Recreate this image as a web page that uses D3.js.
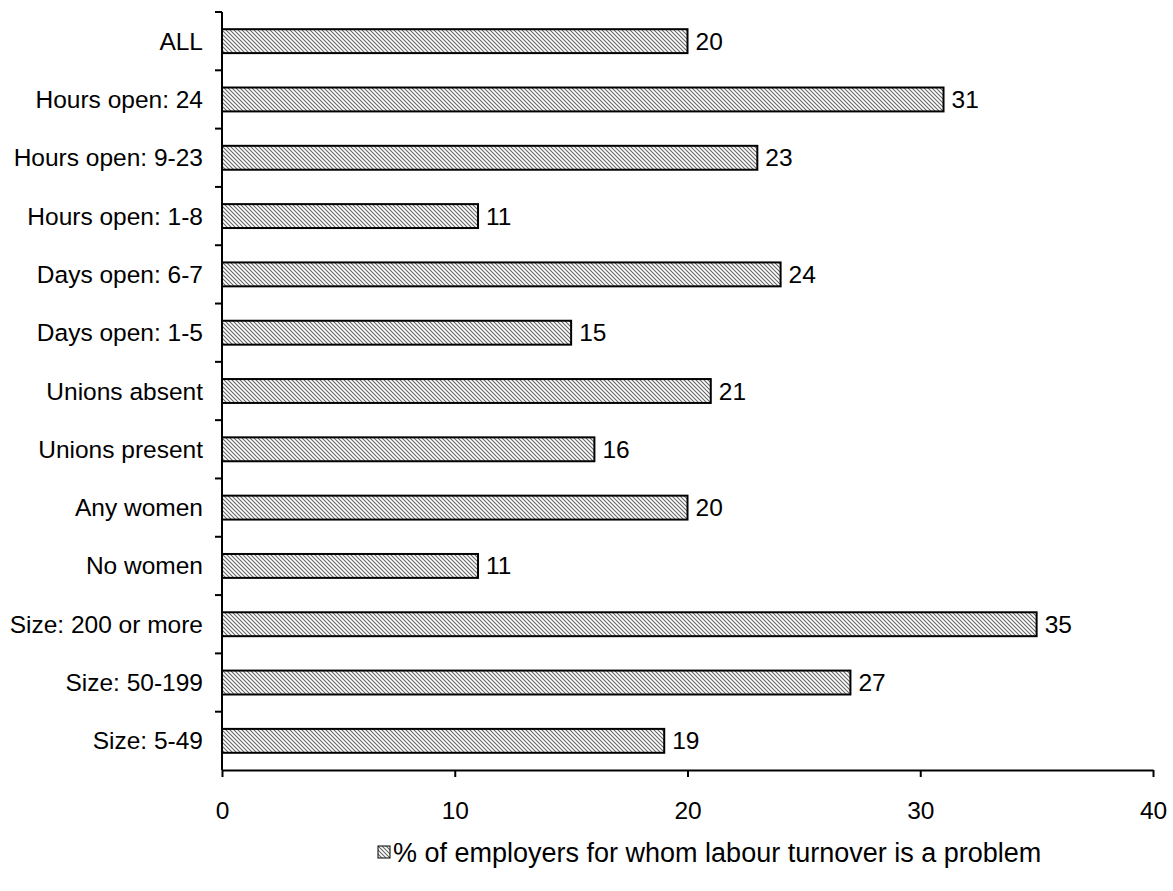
<!DOCTYPE html>
<html>
<head>
<meta charset="utf-8">
<script src="https://cdn.jsdelivr.net/npm/d3@7"></script>
<style>
  html, body { margin: 0; padding: 0; background: #fff; }
  svg { display: block; font-family: Arial, "Liberation Sans", sans-serif; }
</style>
</head>
<body>
<svg id="chart" width="1173" height="891"></svg>
<script>
// Survey groups, top to bottom
const categories = [
  "ALL",
  "Hours open: 24",
  "Hours open: 9-23",
  "Hours open: 1-8",
  "Days open: 6-7",
  "Days open: 1-5",
  "Unions absent",
  "Unions present",
  "Any women",
  "No women",
  "Size: 200 or more",
  "Size: 50-199",
  "Size: 5-49"
];
// % of employers for whom labour turnover is a problem
const values = [20, 31, 23, 11, 24, 15, 21, 16, 20, 11, 35, 27, 19];
const xTicks = [0, 10, 20, 30, 40];
const legendLabel = "% of employers for whom labour turnover is a problem";

const svg = d3.select("#chart");
const plotLeft = 222, plotRight = 1153, plotTop = 12, plotBottom = 770;
const fontSize = 24.5;

// diagonal hatch fill
const defs = svg.append("defs");
const pat = defs.append("pattern")
  .attr("id", "hatch")
  .attr("patternUnits", "userSpaceOnUse")
  .attr("width", 4).attr("height", 4);
pat.append("rect").attr("width", 4).attr("height", 4).attr("fill", "#fff");
pat.append("path")
  .attr("d", "M-1,-1L5,5M-1,3L1,5M3,-1L5,1")
  .attr("stroke", "#666").attr("stroke-width", 1.1);

const x = d3.scaleLinear().domain([0, 40]).range([plotLeft, plotRight]);
const y = d3.scaleBand().domain(categories).range([plotTop, plotBottom]).paddingInner(0.59).paddingOuter(0.295);
const band = d3.scaleBand().domain(categories).range([plotTop, plotBottom]);

// bars
svg.append("g").selectAll("rect")
  .data(categories)
  .join("rect")
  .attr("x", x(0))
  .attr("y", d => y(d))
  .attr("width", (d, i) => x(values[i]) - x(0))
  .attr("height", y.bandwidth())
  .attr("fill", "url(#hatch)")
  .attr("stroke", "#000")
  .attr("stroke-width", 2);

// value labels
svg.append("g").selectAll("text")
  .data(categories)
  .join("text")
  .attr("x", (d, i) => x(values[i]) + 8)
  .attr("y", d => y(d) + y.bandwidth() / 2)
  .attr("dy", "0.35em")
  .attr("font-size", fontSize)
  .attr("fill", "#000")
  .text((d, i) => values[i]);

// y axis: line, boundary ticks, category labels
const gy = svg.append("g");
gy.append("line")
  .attr("x1", plotLeft).attr("x2", plotLeft)
  .attr("y1", plotTop).attr("y2", plotBottom)
  .attr("stroke", "#000").attr("stroke-width", 2);
const bounds = categories.map(c => band(c));
gy.selectAll("line.tk")
  .data(bounds)
  .join("line")
  .attr("class", "tk")
  .attr("x1", plotLeft - 7).attr("x2", plotLeft)
  .attr("y1", d => d).attr("y2", d => d)
  .attr("stroke", "#000").attr("stroke-width", 2);
gy.selectAll("text")
  .data(categories)
  .join("text")
  .attr("x", plotLeft - 19)
  .attr("y", d => band(d) + band.bandwidth() / 2)
  .attr("dy", "0.35em")
  .attr("text-anchor", "end")
  .attr("font-size", fontSize)
  .text(d => d);

// x axis
const gx = svg.append("g").attr("transform", `translate(0,${plotBottom})`)
  .call(d3.axisBottom(x).tickValues(xTicks).tickSize(7).tickPadding(25).tickSizeOuter(0));
gx.select(".domain").attr("stroke", "#000").attr("stroke-width", 2);
gx.selectAll(".tick line").attr("stroke", "#000").attr("stroke-width", 2);
gx.selectAll(".tick text")
  .attr("font-size", fontSize)
  .attr("font-family", "Arial, 'Liberation Sans', sans-serif")
  .attr("fill", "#000");

// legend
const lg = svg.append("g").attr("transform", "translate(378,846)");
lg.append("rect")
  .attr("width", 12).attr("height", 12)
  .attr("fill", "url(#hatch)")
  .attr("stroke", "#000").attr("stroke-width", 1);
lg.append("text")
  .attr("x", 15).attr("y", 7)
  .attr("dy", "0.35em")
  .attr("font-size", 27)
  .text(legendLabel);
</script>
</body>
</html>
